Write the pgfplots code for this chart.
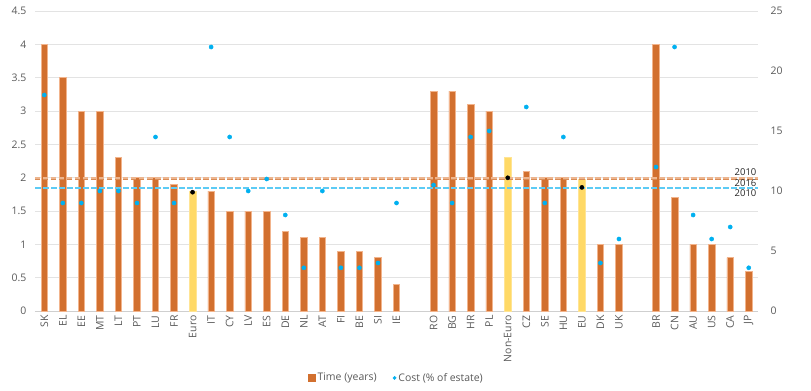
\documentclass[border=0pt]{standalone}
\usepackage{pgfplots}
\pgfplotsset{compat=1.18}
\usepackage{fontspec}
\setmainfont{Open Sans}
\definecolor{barorange}{HTML}{D2702F}
\definecolor{baredge}{HTML}{F2B48C}
\definecolor{baryellow}{HTML}{FFD966}
\definecolor{dotblue}{HTML}{00B0F0}
\definecolor{lineblue}{HTML}{5CCBF5}
\definecolor{lineorangeA}{HTML}{EDB58E}
\definecolor{lineorangeB}{HTML}{D98B55}
\definecolor{gridgray}{HTML}{E3E3E3}
\definecolor{labgray}{HTML}{595959}
\begin{document}
\begin{tikzpicture}[font=\fontsize{10.5}{12}\selectfont]
\begin{axis}[
  at={(0,0)}, anchor=south west,
  scale only axis, width=723bp, height=300bp,
  xmin=-0.5, xmax=38.5, ymin=0, ymax=4.5,
  ytick={0,0.5,1,1.5,2,2.5,3,3.5,4,4.5},
  yticklabel style={/pgf/number format/fixed, text=labgray},
  /pgf/number format/assume math mode=true,
  ymajorgrids, grid style={draw=gridgray, line width=0.8pt},
  axis x line*=bottom, axis y line*=left,
  x axis line style={draw=gridgray!80!gray, line width=0.8pt, -},
  y axis line style={draw=none},
  major tick length=0pt,
  ytick style={draw=none}, xtick style={draw=none},
  xtick={0,1,2,3,4,5,6,7,8,9,10,11,12,13,14,15,16,17,18,19,21,22,23,24,25,26,27,28,29,30,31,33,34,35,36,37,38},
  xticklabels={SK,EL,EE,MT,LT,PT,LU,FR,Euro,IT,CY,LV,ES,DE,NL,AT,FI,BE,SI,IE,RO,BG,HR,PL,Non-Euro,CZ,SE,HU,EU,DK,UK,BR,CN,AU,US,CA,JP},
  x tick label style={rotate=90, anchor=east, text=labgray},
  xticklabel shift=1bp,
  yticklabel shift=5bp,
  legend style={at={(0.5,-0.223)}, anchor=center, draw=none, fill=none,
    legend columns=2, text=labgray,
    /tikz/every even column/.append style={column sep=14bp}},
  legend cell align=left,
]
\addplot[ybar, bar width=6.5bp, bar shift=0pt, fill=barorange, draw=baredge, line width=0.6pt, forget plot] coordinates {
(0,4) (1,3.5) (2,3) (3,3) (4,2.3) (5,2) (6,2) (7,1.9) (9,1.8) (10,1.5) (11,1.5) (12,1.5) (13,1.2) (14,1.1) (15,1.1) (16,0.9) (17,0.9) (18,0.8) (19,0.4)
(21,3.3) (22,3.3) (23,3.1) (24,3.0) (26,2.1) (27,2.0) (28,2.0) (30,1.0) (31,1.0)
(33,4.0) (34,1.7) (35,1.0) (36,1.0) (37,0.8) (38,0.6)
};
\addplot[ybar, bar width=6.5bp, bar shift=0pt, fill=baryellow, draw=baryellow!70!white, line width=0.6pt, forget plot] coordinates {
(8,1.8) (25,2.31) (29,1.97)
};
\addplot[draw=lineorangeA, dash pattern=on 5.5bp off 2.5bp, line width=2.2pt, mark=none, forget plot] coordinates {(-0.5,2.0) (38.5,2.0)};
\addplot[draw=lineorangeB, dash pattern=on 5.5bp off 2.5bp, line width=0.9pt, mark=none, forget plot] coordinates {(-0.5,1.978) (38.5,1.978)};
\node[anchor=east, inner sep=0.5bp, font=\fontsize{9.5}{10}\selectfont, text=black!85] at (axis cs:38.45,2.09) {2010};
\node[anchor=east, inner sep=0.5bp, font=\fontsize{9.5}{10}\selectfont, text=black!85] at (axis cs:38.45,1.925) {2016};
\node[anchor=east, inner sep=0.5bp, font=\fontsize{9.5}{10}\selectfont, text=black!85] at (axis cs:38.45,1.77) {2010};
\addlegendimage{legend image code/.code={\fill[barorange] (0bp,-3.5bp) rectangle (7bp,3.5bp);}}
\addlegendentry{Time (years)}
\addlegendimage{legend image code/.code={\fill[dotblue] (3.5bp,0bp) circle (1.7bp);}}
\addlegendentry{Cost (\% of estate)}
\end{axis}
\begin{axis}[
  at={(0,0)}, anchor=south west,
  scale only axis, width=723bp, height=300bp,
  xmin=-0.5, xmax=38.5, ymin=0, ymax=25,
  axis y line*=right, axis x line=none,
  y axis line style={draw=none},
  ytick={0,5,10,15,20,25},
  yticklabel style={text=labgray},
  /pgf/number format/assume math mode=true,
  major tick length=0pt, ytick style={draw=none},
  yticklabel shift=9bp,
]
\addplot[draw=lineblue, dash pattern=on 5.5bp off 2.5bp, line width=1.6pt, mark=none] coordinates {(-0.5,10.27) (38.5,10.27)};
\addplot[only marks, mark=*, mark size=2.1bp, color=dotblue, fill=dotblue] coordinates {
(0,18) (1,9) (2,9) (3,10) (4,10) (5,9) (6,14.5) (7,9) (9,22) (10,14.5) (11,10) (12,11) (13,8) (14,3.6) (15,10) (16,3.6) (17,3.6) (18,4) (19,9)
(21,10.5) (22,9) (23,14.5) (24,15) (26,17) (27,9) (28,14.5) (30,4) (31,6)
(33,12) (34,22) (35,8) (36,6) (37,7) (38,3.6)
};
\addplot[only marks, mark=*, mark size=2.1bp, color=black, fill=black] coordinates {
(8,9.9) (25,11.1) (29,10.3)
};
\end{axis}
\pgfresetboundingbox
\path (-35bp,-80bp) rectangle (776bp,311bp);
\end{tikzpicture}
\end{document}
